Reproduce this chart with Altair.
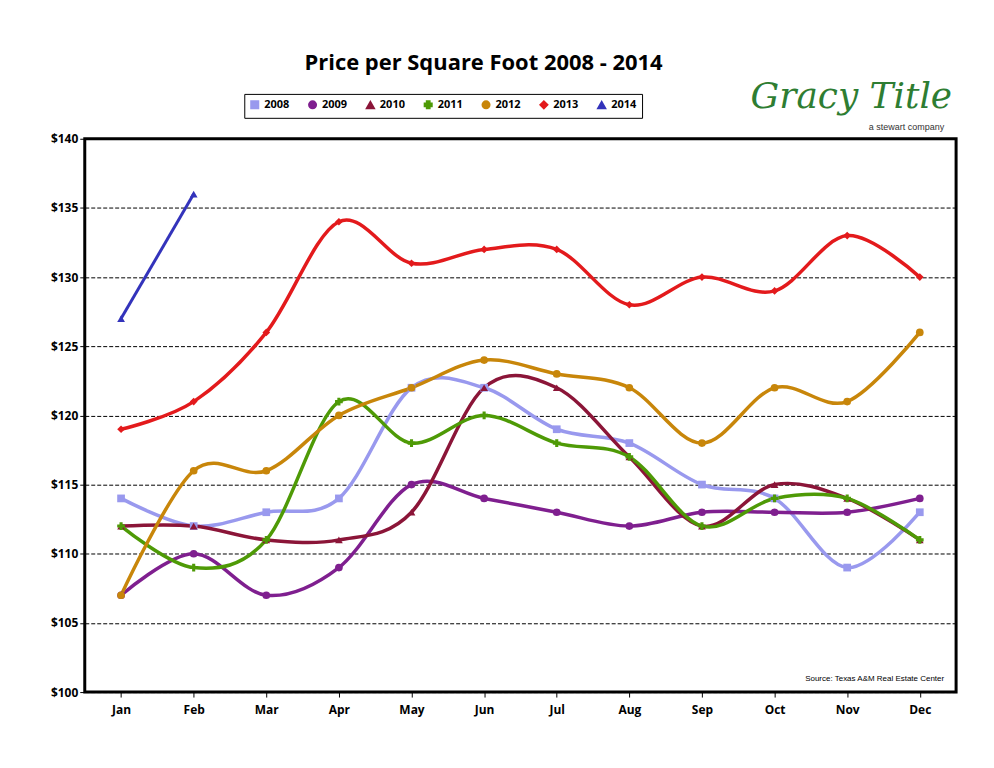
import altair as alt
import pandas as pd

months = ['Jan', 'Feb', 'Mar', 'Apr', 'May', 'Jun', 'Jul', 'Aug', 'Sep', 'Oct', 'Nov', 'Dec']
years = ['2008', '2009', '2010', '2011', '2012', '2013', '2014']
colors = ['#9999EE', '#7F1F8F', '#8B1538', '#4E9A06', '#C8860A', '#E31A1C', '#3333BB']
shapes = ['square', 'circle', 'triangle-up', 'cross', 'circle', 'diamond', 'triangle-up']

p2008 = [114, 112, 113, 114, 122, 122, 119, 118, 115, 114, 109, 113]
p2009 = [107, 110, 107, 109, 115, 114, 113, 112, 113, 113, 113, 114]
p2010 = [112, 112, 111, 111, 113, 122, 122, 117, 112, 115, 114, 111]
p2011 = [112, 109, 111, 121, 118, 120, 118, 117, 112, 114, 114, 111]
p2012 = [107, 116, 116, 120, 122, 124, 123, 122, 118, 122, 121, 126]
p2013 = [119, 121, 126, 134, 131, 132, 132, 128, 130, 129, 133, 130]
p2014 = [127, 136]

rows = []
for yr, vals in zip(years, [p2008, p2009, p2010, p2011, p2012, p2013, p2014]):
    for m, v in zip(months, vals):
        rows.append({'month': m, 'year': yr, 'price': v})
df = pd.DataFrame(rows)

x = alt.X('month:N', sort=months, title=None,
          scale=alt.Scale(type='point', padding=0.5),
          axis=alt.Axis(labelAngle=0, labelFontWeight='bold', labelFontSize=12,
                        domain=False, ticks=True, tickColor='black', labelPadding=8))
y = alt.Y('price:Q', title=None,
          scale=alt.Scale(domain=[100, 140], nice=False),
          axis=alt.Axis(values=list(range(100, 141, 5)), format='$d', labelFontWeight='bold',
                        labelFontSize=12, domain=False, tickColor='black',
                        grid=True, gridColor='black', gridDash=[4, 2], gridWidth=1))
legend = alt.Legend(title=None, orient='none', direction='horizontal',
                    legendX=160, legendY=-45, strokeColor='black',
                    padding=5, labelFontWeight='bold', labelFontSize=11,
                    symbolSize=50, columnPadding=14, symbolStrokeWidth=2)
color = alt.Color('year:N', scale=alt.Scale(domain=years, range=colors), legend=legend)
shape = alt.Shape('year:N', scale=alt.Scale(domain=years, range=shapes), legend=legend)

base = alt.Chart(df)
lines = base.transform_filter(alt.datum.year != '2014').mark_line(
    interpolate='cardinal', strokeWidth=3.5).encode(x=x, y=y, color=color)
line14 = base.transform_filter(alt.datum.year == '2014').mark_line(strokeWidth=3).encode(
    x=x, y=y, color=color)
points = base.mark_point(filled=True, size=60, opacity=1).encode(x=x, y=y, color=color, shape=shape)

title = alt.Chart(pd.DataFrame({'t': ['Price per Square Foot 2008 - 2014']})).mark_text(
    fontSize=22, fontWeight='bold', font='Open Sans').encode(
    text='t:N', x=alt.value(400), y=alt.value(-76))
logo = alt.Chart(pd.DataFrame({'t': ['Gracy Title']})).mark_text(
    fontSize=36, fontStyle='italic', font='DejaVu Serif', color='#2E7D32', align='right').encode(
    text='t:N', x=alt.value(870), y=alt.value(-42))
logo2 = alt.Chart(pd.DataFrame({'t': ['a stewart company']})).mark_text(
    fontSize=9, align='right', color='#333333').encode(
    text='t:N', x=alt.value(862), y=alt.value(-12))
source = alt.Chart(pd.DataFrame({'t': ['Source: Texas A&M Real Estate Center']})).mark_text(
    fontSize=8, align='right').encode(text='t:N', x=alt.value(862), y=alt.value(542))

chart = alt.layer(lines, line14, points, title, logo, logo2, source).properties(
    width=874, height=555, autosize='none',
    padding={'left': 77, 'top': 130, 'right': 30, 'bottom': 75}
).configure_view(stroke='black', strokeWidth=3).configure_axis(
    labelFont='Open Sans', labelColor='black').configure_legend(labelFont='Open Sans')

chart.save('out.html', embed_options={'renderer': 'svg', 'actions': False})
